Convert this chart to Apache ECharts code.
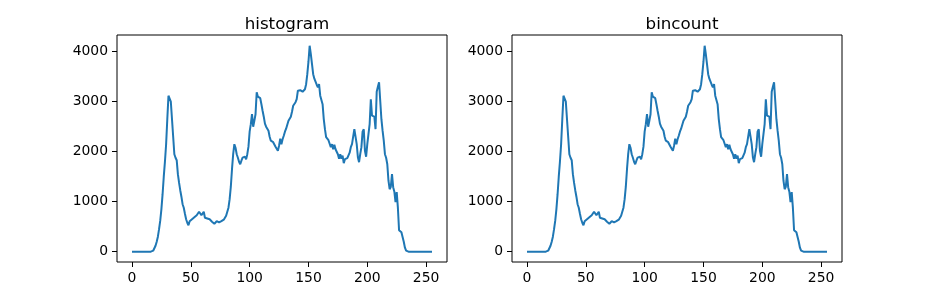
<!DOCTYPE html>
<html>
<head>
<meta charset="utf-8">
<script src="https://cdn.jsdelivr.net/npm/echarts@6/dist/echarts.min.js"></script>
<style>
html,body{margin:0;padding:0;background:#fff;}
#c{width:935px;height:294px;}
</style>
</head>
<body>
<div id="c"></div>
<script>
const titles = ['histogram', 'bincount'];
const xTicks = [0, 50, 100, 150, 200, 250];
const yTicks = [0, 1000, 2000, 3000, 4000];
const counts = [
  0,0,0,0,0,0,0,0,0,0,0,0,0,0,0,0,0,5,20,60,
  120,200,300,450,620,850,1150,1500,1800,2150,2650,3120,3080,3000,2650,2300,1950,1880,1830,1550,
  1380,1230,1100,950,880,760,650,580,530,610,630,650,660,690,700,730,750,800,760,730,
  770,800,680,670,665,655,650,620,600,580,560,580,610,600,585,590,610,620,640,680,
  720,760,880,1050,1300,1650,1950,2150,2080,1950,1880,1800,1750,1820,1880,1920,1900,1850,1950,2100,
  2400,2550,2750,2500,2620,2750,3190,3100,3080,3070,2950,2820,2700,2560,2500,2480,2420,2300,2220,2210,
  2190,2150,2100,2060,2020,2120,2260,2150,2250,2320,2400,2460,2540,2620,2660,2700,2800,2920,2960,2990,
  3050,3220,3190,3230,3190,3200,3190,3250,3350,3550,3800,4120,3950,3750,3550,3460,3420,3340,3290,3350,
  3120,3150,2950,2650,2450,2290,2250,2230,2210,2090,2150,2050,2140,2050,2020,1950,1860,1950,1860,1920,
  1770,1850,1890,1870,1870,1980,2090,2150,2190,2450,2300,2150,1890,1790,1950,2090,2400,2450,2020,1900,
  2150,2350,2550,3050,2720,2690,2700,2450,3200,3300,3390,3380,2650,2420,2220,1950,1880,1750,1420,1250,
  1300,1550,1290,1200,990,1190,880,430,400,390,400,200,80,20,5,0,0,0,0,0,
  0,0,0,0,0,0,0,0,0,0,0,0,0,0,0,0
];

const points = counts.map((v, i) => [i, v]);
const FONT = 'DejaVu Sans';
const gridLefts = [117, 512];
const gridW = 330;

const chart = echarts.init(document.getElementById('c'), null, {renderer: 'canvas'});

const grids = gridLefts.map(l => ({
  left: l, top: 35, width: gridW, height: 227,
  show: true, borderColor: '#000', borderWidth: 1, backgroundColor: 'transparent'
}));

const plain = v => String(v);

const xAxes = gridLefts.map((l, k) => ({
  type: 'value', gridIndex: k, min: -12.75, max: 267.75, position: 'bottom',
  splitLine: {show: false},
  axisLine: {show: false, onZero: false},
  axisTick: {show: true, inside: false, length: 5, customValues: xTicks, lineStyle: {color: '#000', width: 1}},
  axisLabel: {customValues: xTicks, formatter: plain, color: '#000', fontFamily: FONT, fontSize: 13.9, margin: 9}
}));

const yAxes = gridLefts.map((l, k) => ({
  type: 'value', gridIndex: k, min: -206, max: 4334, position: 'left',
  splitLine: {show: false},
  axisLine: {show: false, onZero: false},
  axisTick: {show: true, inside: false, length: 5, customValues: yTicks, lineStyle: {color: '#000', width: 1}},
  axisLabel: {customValues: yTicks, formatter: plain, color: '#000', fontFamily: FONT, fontSize: 13.9, margin: 9}
}));

chart.setOption({
  animation: false,
  backgroundColor: '#fff',
  title: titles.map((t, k) => ({
    text: t, left: gridLefts[k] + gridW / 2, top: 11, textAlign: 'center',
    textStyle: {fontFamily: FONT, fontSize: 16.7, fontWeight: 'normal', color: '#000'}
  })),
  grid: grids,
  xAxis: xAxes,
  yAxis: yAxes,
  series: gridLefts.map((l, k) => ({
    type: 'line', xAxisIndex: k, yAxisIndex: k, data: points,
    showSymbol: false, symbol: 'none',
    lineStyle: {color: '#1f77b4', width: 2}
  }))
});
</script>
</body>
</html>
